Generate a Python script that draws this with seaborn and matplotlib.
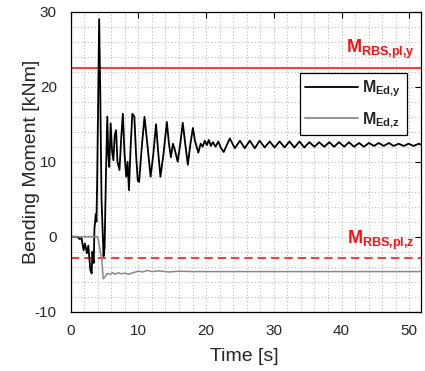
import numpy as np
import pandas as pd
import matplotlib
matplotlib.use("Agg")
import matplotlib.pyplot as plt
import seaborn as sns
from matplotlib.ticker import MultipleLocator

# ---- data ----
time_y = [0, 1.0, 1.3, 1.6, 1.9, 2.1, 2.4, 2.6, 2.9, 3.1, 3.2, 3.4, 3.5, 3.7, 3.8, 3.9,
          4.05, 4.2, 4.35, 4.55, 4.85, 5.0, 5.2, 5.4, 5.55, 5.7, 5.9, 6.1, 6.3, 6.5,
          6.7, 6.9, 7.2, 7.45, 7.7, 7.95, 8.2, 8.4, 8.6, 8.85, 9.1, 9.4, 9.65, 9.9,
          10.1, 10.5, 10.9, 11.3, 11.8, 12.2, 12.6, 12.9, 13.25, 13.7, 14.2, 14.5,
          14.8, 15.1, 15.4, 15.8, 16.2, 16.55, 16.9, 17.3, 17.7, 18.05, 18.35, 18.85,
          19.2, 19.5, 19.8, 20.1, 20.4, 20.7, 21.0, 21.4, 21.8, 22.2, 22.6, 23.5,
          24.25, 25.0, 25.7, 26.45, 27.2, 27.9, 28.65, 29.4, 30.1, 30.85, 31.6, 32.3,
          33.05, 33.8, 34.5, 35.25, 36.0, 36.7, 37.45, 38.2, 38.9, 39.65, 40.4, 41.1,
          41.85, 42.6, 43.3, 44.05, 44.8, 45.5, 46.25, 47.0, 47.7, 48.45, 49.2, 49.9,
          50.65, 51.4, 52.0]
moment_y = [0, 0, -0.3, -0.2, -1.8, -0.9, -2.2, -1.2, -4.4, -4.9, -2.0, -3.5, 1.0, 3.0, 2.0, 7.0,
            18.0, 29.0, 20.0, 5.0, -2.6, -1.5, 8.0, 16.0, 11.0, 9.3, 15.1, 11.5, 10.2, 13.5,
            14.2, 10.0, 8.9, 13.0, 16.4, 11.0, 8.0, 10.0, 6.2, 12.0, 16.4, 16.0, 11.0, 7.5,
            7.3, 12.0, 16.0, 12.5, 8.0, 11.0, 15.0, 11.5, 8.0, 11.0, 15.3, 12.5,
            10.6, 12.4, 11.5, 10.0, 12.5, 15.2, 12.5, 9.6, 12.5, 14.5, 12.8, 11.2,
            12.4, 12.0, 12.8, 12.2, 12.9, 12.1, 12.6, 12.0, 12.7, 11.8, 11.3, 13.1,
            11.8, 12.8, 11.8, 12.8, 11.8, 12.8, 11.9, 12.7, 11.9, 12.7, 11.9, 12.7,
            11.9, 12.7, 11.9, 12.6, 12.0, 12.6, 12.0, 12.6, 12.0, 12.6, 12.0, 12.6,
            12.0, 12.5, 12.0, 12.5, 12.1, 12.5, 12.1, 12.5, 12.1, 12.4, 12.1, 12.4,
            12.1, 12.4, 12.2]
time_z = [0, 3.95, 4.1, 4.4, 4.6, 4.8, 5.1, 5.4, 5.8, 6.2, 6.6, 7.0, 7.5, 8.0, 8.6,
          9.2, 10.0, 10.6, 11.3, 12.0, 13.0, 14.5, 16.0, 18.0, 25.0, 35.0, 52.0]
moment_z = [0, 0, -0.5, -2.2, -3.0, -5.6, -5.3, -4.9, -5.0, -4.8, -5.0, -4.8, -4.95, -4.85, -5.0,
            -4.8, -4.6, -4.7, -4.5, -4.65, -4.55, -4.7, -4.6, -4.65, -4.65, -4.65, -4.65]
limit_y = 22.5
limit_z = -2.9
series_labels = [r"$\mathbf{M_{Ed{,}y}}$", r"$\mathbf{M_{Ed{,}z}}$"]
limit_labels = [r"$\mathbf{M_{RBS{,}pl{,}y}}$", r"$\mathbf{M_{RBS{,}pl{,}z}}$"]
x_ticks = [0, 10, 20, 30, 40, 50]
y_ticks = [-10, 0, 10, 20, 30]

sns.set_style("white")
plt.rcParams['font.family'] = ['Liberation Sans', 'DejaVu Sans']
plt.rcParams['mathtext.fontset'] = 'custom'
plt.rcParams['mathtext.rm'] = 'Liberation Sans'
plt.rcParams['mathtext.bf'] = 'Liberation Sans:bold'
plt.rcParams['mathtext.it'] = 'Liberation Sans:italic'
plt.rcParams['axes.unicode_minus'] = False

df = pd.concat([
    pd.DataFrame({'t': time_y, 'm': moment_y, 'series': series_labels[0]}),
    pd.DataFrame({'t': time_z, 'm': moment_z, 'series': series_labels[1]}),
], ignore_index=True)

fig = plt.figure(figsize=(4.25, 3.71), dpi=100)
ax = fig.add_axes([0.1664, 0.1598, 0.8235, 0.8086])

sns.lineplot(data=df, x='t', y='m', hue='series', palette=['black', '#888888'],
             sort=False, estimator=None, ax=ax, legend=True)
for line, lw in zip(ax.get_lines(), [1.3, 1.1]):
    line.set_linewidth(lw)

ax.axhline(limit_y, color='#ff3b3b', lw=1.5, zorder=1)
ax.axhline(limit_z, color='#ff3b3b', lw=1.5, dashes=(4, 2.4), zorder=1)
ax.text(50.9, limit_y + 0.9, limit_labels[0], color='#ff1010', fontsize=13,
        ha='right', va='bottom')
ax.text(50.9, limit_z + 0.8, limit_labels[1], color='#ff1010', fontsize=13,
        ha='right', va='bottom')

ax.set_xlim(0, 51.7)
ax.set_ylim(-10, 30)
ax.set_xticks(x_ticks)
ax.set_yticks(y_ticks)
ax.xaxis.set_minor_locator(MultipleLocator(2))
ax.yaxis.set_minor_locator(MultipleLocator(2))
ax.grid(which='both', color='#bcbcbc', lw=0.8, dashes=(1, 2))
ax.set_axisbelow(True)
ax.tick_params(which='major', direction='in', top=True, right=True, length=4,
               width=0.8, labelsize=11, color='black')
ax.tick_params(axis='x', which='major', pad=9)
ax.tick_params(axis='y', which='major', pad=10)
ax.tick_params(which='minor', length=0)
for s in ax.spines.values():
    s.set_color('black')
    s.set_linewidth(0.9)

ax.set_xlabel('Time [s]', fontsize=14)
ax.set_ylabel('Bending Moment [kNm]', fontsize=14)
ax.xaxis.set_label_coords(0.495, -0.12)
ax.yaxis.set_label_coords(-0.088, 0.5)

leg = ax.legend(loc='upper right', bbox_to_anchor=(0.96, 0.797), fontsize=11.5,
                frameon=True, fancybox=False, edgecolor='black', framealpha=1,
                handlelength=3.3, handletextpad=0.25, labelspacing=0.7,
                borderpad=0.35, borderaxespad=0)
leg.get_frame().set_linewidth(0.9)
for h in leg.get_lines():
    h.set_linewidth(1.3)

fig.savefig('out.png', dpi=100)
